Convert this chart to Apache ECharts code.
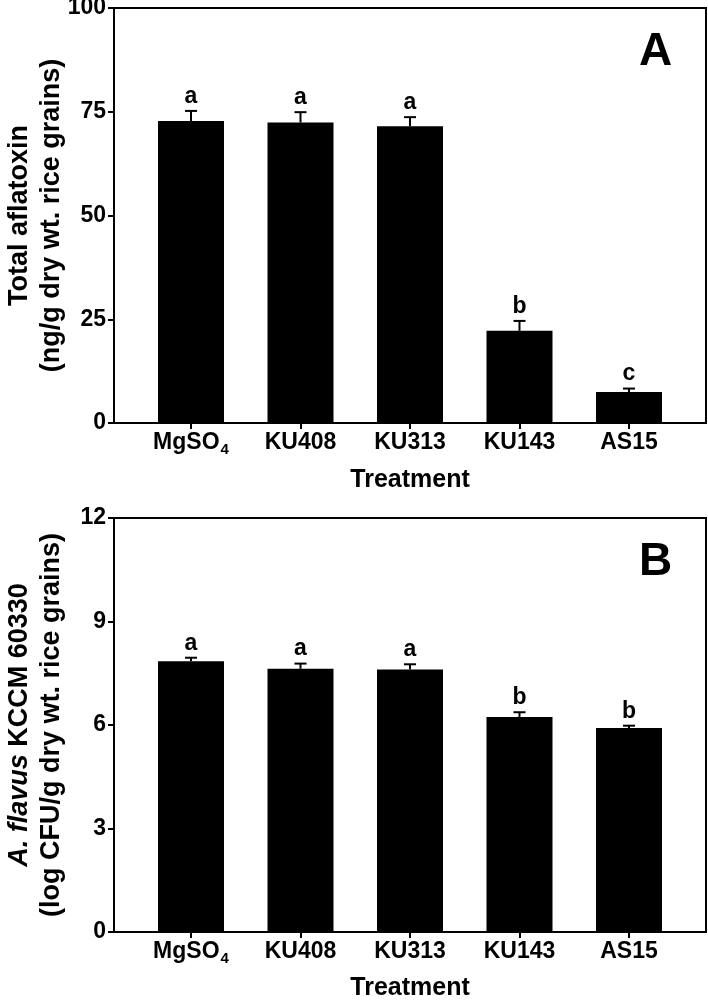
<!DOCTYPE html>
<html>
<head>
<meta charset="utf-8">
<script src="https://cdn.jsdelivr.net/npm/echarts@6/dist/echarts.min.js"></script>
<style>
html,body{margin:0;padding:0;background:#fff;}
#chart{width:708px;height:1000px;}
</style>
</head>
<body>
<div id="chart"></div>
<script>
// ---- data ----
const categories = ['MgSO4', 'KU408', 'KU313', 'KU143', 'AS15'];
const aflatoxin = [72.8, 72.4, 71.5, 22.2, 7.5];
const aflatoxinErr = [2.4, 2.5, 2.2, 2.4, 0.8];
const aflatoxinLetters = ['a', 'a', 'a', 'b', 'c'];
const cfu = [7.85, 7.63, 7.61, 6.23, 5.91];
const cfuErr = [0.10, 0.15, 0.15, 0.14, 0.07];
const cfuLetters = ['a', 'a', 'a', 'b', 'b'];
const axisA = { min: 0, max: 100, interval: 25 };
const axisB = { min: 0, max: 12, interval: 3 };
const panelLabels = ['A', 'B'];
const xTitle = 'Treatment';
const yTitleA = 'Total aflatoxin\n(ng/g dry wt. rice grains)';
const yTitleB = '{i|A. flavus} KCCM 60330\n(log CFU/g dry wt. rice grains)';

// ---- chart ----
const FONT = '"Liberation Sans", Arial, Helvetica, sans-serif';
const chart = echarts.init(document.getElementById('chart'), null, { renderer: 'canvas' });

const boxLeft = 114, boxWidth = 592;
const barLeft = 136.25, barWidth = 547.5;
const panels = [
  { top: 8, height: 415, nameGapX: 45 },
  { top: 518, height: 414, nameGapX: 44 }
];

function catLabel(v) {
  if (v === 'MgSO4') return '{m|MgSO}{s|4}';
  return '{m|' + v + '}';
}

const grids = [];
const xAxes = [];
const yAxes = [];
const series = [];

function errRender(letters) {
  return function (params, api) {
    const i = api.value(0), v = api.value(1), e = api.value(2);
    const base = api.coord([i, v]);
    const top = api.coord([i, v + e]);
    return {
      type: 'group',
      children: [
        { type: 'line', shape: { x1: top[0], y1: base[1], x2: top[0], y2: top[1] }, style: { stroke: '#000', lineWidth: 2 } },
        { type: 'line', shape: { x1: top[0] - 6, y1: top[1], x2: top[0] + 6, y2: top[1] }, style: { stroke: '#000', lineWidth: 2 } },
        { type: 'text', x: top[0], y: top[1] - 3, style: { text: letters[params.dataIndex], align: 'center', verticalAlign: 'bottom', font: 'bold 23px ' + FONT, fill: '#000' } }
      ]
    };
  };
}

const panelData = [
  { vals: aflatoxin, errs: aflatoxinErr, letters: aflatoxinLetters, ax: axisA, title: yTitleA },
  { vals: cfu, errs: cfuErr, letters: cfuLetters, ax: axisB, title: yTitleB }
];

panels.forEach((p, k) => {
  const d = panelData[k];
  const gBox = grids.length;
  grids.push({ left: boxLeft, top: p.top, width: boxWidth, height: p.height, show: true, borderColor: '#000', borderWidth: 2, backgroundColor: 'transparent', containLabel: false, outerBoundsMode: 'none' });
  const gBar = grids.length;
  grids.push({ left: barLeft, top: p.top, width: barWidth, height: p.height, containLabel: false, outerBoundsMode: 'none' });

  // box axes
  xAxes.push({ type: 'value', gridIndex: gBox, min: 0, max: 1, show: false });
  yAxes.push({
    type: 'value', gridIndex: gBox, min: d.ax.min, max: d.ax.max, interval: d.ax.interval,
    axisLine: { show: true, lineStyle: { color: '#000', width: 2 } },
    axisTick: { show: true, length: 6, lineStyle: { color: '#000', width: 2 } },
    splitLine: { show: false },
    axisLabel: { color: '#000', fontSize: 23, fontWeight: 'bold', fontFamily: FONT, margin: 8 },
    name: d.title, nameLocation: 'middle', nameRotate: 90, nameGap: 46, nameMoveOverlap: false,
    nameTextStyle: {
      color: '#000', fontSize: 27, fontWeight: 'bold', fontFamily: FONT, lineHeight: 32, align: 'center',
      rich: { i: { fontStyle: 'italic', fontSize: 27, fontWeight: 'bold', fontFamily: FONT, color: '#000', lineHeight: 32 } }
    }
  });

  // bar axes
  const xBar = xAxes.length;
  xAxes.push({
    type: 'category', gridIndex: gBar, data: categories,
    axisLine: { show: false },
    axisTick: { show: true, alignWithLabel: true, length: 6, lineStyle: { color: '#000', width: 2 } },
    axisLabel: {
      formatter: catLabel, margin: 8, color: '#000',
      rich: {
        m: { fontSize: 23, fontWeight: 'bold', fontFamily: FONT, color: '#000', lineHeight: 24, verticalAlign: 'top' },
        s: { fontSize: 15, fontWeight: 'bold', fontFamily: FONT, color: '#000', lineHeight: 15, verticalAlign: 'top', padding: [11, 0, 0, 1] }
      }
    },
    name: xTitle, nameLocation: 'middle', nameGap: p.nameGapX, nameMoveOverlap: false,
    nameTextStyle: { color: '#000', fontSize: 25, fontWeight: 'bold', fontFamily: FONT, lineHeight: 25, verticalAlign: 'top' }
  });
  const yBar = yAxes.length;
  yAxes.push({ type: 'value', gridIndex: gBar, min: d.ax.min, max: d.ax.max, interval: d.ax.interval, show: false, splitLine: { show: false } });

  series.push({
    type: 'bar', xAxisIndex: xBar, yAxisIndex: yBar, data: d.vals,
    barWidth: 66, itemStyle: { color: '#000' }, silent: true, z: 2
  });
  series.push({
    type: 'custom', xAxisIndex: xBar, yAxisIndex: yBar, z: 3, silent: true,
    data: d.vals.map((v, i) => [i, v, d.errs[i]]),
    renderItem: errRender(d.letters)
  });
});

const option = {
  animation: false,
  backgroundColor: '#fff',
  textStyle: { fontFamily: FONT },
  grid: grids,
  xAxis: xAxes,
  yAxis: yAxes,
  series: series,
  graphic: [
    { type: 'text', left: 639, top: 29, style: { text: panelLabels[0], font: 'bold 46px ' + FONT, fill: '#000' } },
    { type: 'text', left: 639, top: 539, style: { text: panelLabels[1], font: 'bold 46px ' + FONT, fill: '#000' } }
  ]
};
chart.setOption(option);
</script>
</body>
</html>
